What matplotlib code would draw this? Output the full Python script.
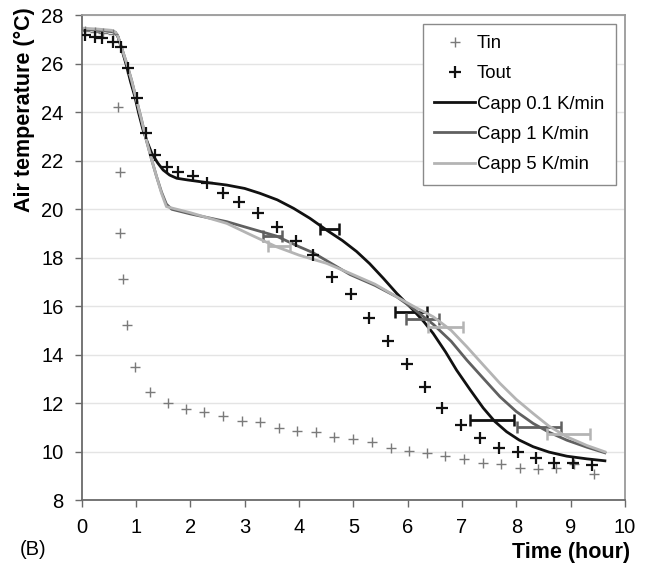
import matplotlib

matplotlib.use("Agg")
import matplotlib.pyplot as plt

# ---------------- DATA ----------------
TIN_X = [0.06, 0.25, 0.40, 0.58, 0.67, 0.70, 0.71, 0.77, 0.83, 0.99, 1.26, 1.59,
         1.92, 2.26, 2.61, 2.95, 3.29, 3.64, 3.97, 4.31, 4.65, 5.00, 5.34, 5.69,
         6.03, 6.35, 6.69, 7.04, 7.38, 7.72, 8.07, 8.40, 8.73, 9.06, 9.43]
TIN_Y = [27.35, 27.3, 27.25, 27.2, 24.22, 21.54, 19.0, 17.12, 15.2, 13.47, 12.47, 11.99,
         11.75, 11.62, 11.45, 11.27, 11.22, 10.98, 10.86, 10.82, 10.61, 10.50, 10.38, 10.13,
         10.02, 9.93, 9.83, 9.68, 9.55, 9.48, 9.31, 9.28, 9.31, 9.47, 9.07]

TOUT_X = [0.06, 0.25, 0.38, 0.58, 0.72, 0.86, 1.01, 1.18, 1.35, 1.58, 1.78, 2.05,
          2.30, 2.61, 2.90, 3.24, 3.59, 3.94, 4.26, 4.61, 4.95, 5.29, 5.63, 5.98,
          6.32, 6.64, 6.99, 7.33, 7.68, 8.03, 8.37, 8.69, 9.05, 9.39]
TOUT_Y = [27.18, 27.08, 27.04, 26.90, 26.67, 25.83, 24.57, 23.12, 22.23, 21.74, 21.54, 21.37,
          21.06, 20.65, 20.30, 19.82, 19.27, 18.69, 18.10, 17.20, 16.49, 15.49, 14.56, 13.60,
          12.66, 11.81, 11.09, 10.54, 10.13, 9.97, 9.72, 9.55, 9.51, 9.44]

C01_X = [0, 0.3, 0.55, 0.62, 0.67, 0.75, 0.83, 0.90, 0.98, 1.05, 1.13, 1.21, 1.29, 1.40,
         1.50, 1.62, 1.75, 1.95, 2.18, 2.67, 3.0, 3.28, 3.6, 3.90, 4.2, 4.51, 4.8, 5.06,
         5.3, 5.55, 5.80, 6.10, 6.3, 6.47, 6.7, 6.90, 7.15, 7.39, 7.6, 7.82, 8.05, 8.31,
         8.6, 8.93, 9.3, 9.63]
C01_Y = [27.42, 27.38, 27.33, 27.28, 27.1, 26.5, 25.87, 25.25, 24.63, 23.95, 23.26, 22.75,
         22.3, 21.9, 21.61, 21.4, 21.27, 21.2, 21.13, 20.99, 20.85, 20.65, 20.38, 20.03,
         19.62, 19.13, 18.7, 18.25, 17.75, 17.15, 16.52, 15.84, 15.35, 14.87, 14.1, 13.36,
         12.55, 11.8, 11.25, 10.82, 10.48, 10.20, 9.98, 9.81, 9.7, 9.62]

C1_X = [0, 0.3, 0.55, 0.62, 0.67, 0.75, 0.83, 0.92, 1.01, 1.10, 1.19, 1.28, 1.38, 1.47,
        1.56, 1.66, 2.0, 2.67, 3.1, 3.58, 4.0, 4.26, 4.6, 4.94, 5.4, 5.80, 6.1, 6.47,
        6.8, 7.09, 7.4, 7.70, 8.0, 8.31, 8.6, 8.93, 9.3, 9.63]
C1_Y = [27.42, 27.38, 27.33, 27.28, 27.1, 26.55, 26.0, 25.3, 24.5, 23.7, 22.85, 22.1,
        21.33, 20.7, 20.2, 19.99, 19.8, 19.48, 19.2, 18.89, 18.45, 18.2, 17.75, 17.3,
        16.85, 16.38, 15.9, 15.25, 14.55, 13.77, 13.0, 12.26, 11.65, 11.16, 10.8, 10.47,
        10.18, 9.95]

C5_X = [0, 0.3, 0.55, 0.62, 0.67, 0.75, 0.83, 0.92, 1.01, 1.10, 1.19, 1.28, 1.38, 1.47,
        1.56, 2.0, 2.67, 3.1, 3.58, 4.0, 4.51, 4.94, 5.4, 5.80, 6.1, 6.47, 6.8, 7.09,
        7.4, 7.70, 8.0, 8.31, 8.6, 8.93, 9.3, 9.63]
C5_Y = [27.46, 27.42, 27.37, 27.3, 27.12, 26.55, 26.0, 25.3, 24.5, 23.7, 22.85, 22.1,
        21.33, 20.65, 20.1, 19.85, 19.41, 18.95, 18.45, 18.1, 17.76, 17.35, 16.9, 16.38,
        16.0, 15.56, 15.0, 14.32, 13.55, 12.81, 12.15, 11.57, 11.05, 10.61, 10.25, 9.99]

# horizontal error bars (centre x, y, half width)
ERR_01 = ([4.56, 6.06, 7.55], [19.16, 15.77, 11.30], [0.18, 0.30, 0.40])
ERR_1 = ([3.51, 6.27, 8.42], [18.89, 15.45, 11.02], [0.17, 0.30, 0.40])
ERR_5 = ([3.63, 6.70, 8.96], [18.47, 15.15, 10.71], [0.20, 0.32, 0.40])

# ---------------- PLOT ----------------
plt.rcParams["font.family"] = ["Liberation Sans", "DejaVu Sans"]

fig = plt.figure(figsize=(6.48, 5.67), dpi=100)
ax = fig.add_axes([0.126, 0.118, 0.8385, 0.8555])

ax.plot(TIN_X, TIN_Y, ls="none", marker="+", ms=6.5, mew=1.0, color="#7a7a7a", label="Tin", zorder=3)
ax.plot(TOUT_X, TOUT_Y, ls="none", marker="+", ms=8, mew=1.6, color="#111111", label="Tout", zorder=4)

series = [
    (C01_X, C01_Y, ERR_01, "#111111", "Capp 0.1 K/min"),
    (C1_X, C1_Y, ERR_1, "#606060", "Capp 1 K/min"),
    (C5_X, C5_Y, ERR_5, "#b4b4b4", "Capp 5 K/min"),
]
for xs, ys, err, col, lab in series:
    ax.plot(xs, ys, color=col, lw=2.0, label=lab, zorder=2, solid_joinstyle="round")
    ax.errorbar(err[0], err[1], xerr=err[2], fmt="none", ecolor=col, elinewidth=2.0,
                capsize=4, capthick=1.8, zorder=2)

ax.set_xlim(0, 10)
ax.set_ylim(8, 28)
ax.set_xticks(range(0, 11))
ax.set_yticks(range(8, 29, 2))
ax.yaxis.grid(True, color="#e4e4e4", lw=1.0)
ax.set_axisbelow(True)
for side in ["left", "bottom", "top", "right"]:
    ax.spines[side].set_color("#6a6a6a")
    ax.spines[side].set_linewidth(1.3)
ax.spines["top"].set_color("#9a9a9a")
ax.spines["right"].set_color("#9a9a9a")
ax.tick_params(axis="both", labelsize=14.5, color="#6a6a6a", length=5, width=1.0, direction="out")
ax.tick_params(axis="x", pad=8)
ax.tick_params(axis="y", pad=8)

fig.text(0.037, 0.806, "Air temperature (°C)", fontsize=15.5, fontweight="bold",
         rotation=90, ha="center", va="center")
fig.text(0.972, 0.026, "Time (hour)", fontsize=15.5, fontweight="bold", ha="right", va="center")
fig.text(0.031, 0.03, "(B)", fontsize=14.5, ha="left", va="center")

leg = ax.legend(loc="upper right", bbox_to_anchor=(0.9895, 0.99), fontsize=13.3, frameon=True,
                fancybox=False, framealpha=1, edgecolor="#8a8a8a", handlelength=2.2,
                labelspacing=0.72, borderpad=0.62, handletextpad=0.1, borderaxespad=0.2)
leg.get_frame().set_linewidth(1.0)

fig.savefig("out.png", dpi=100)
